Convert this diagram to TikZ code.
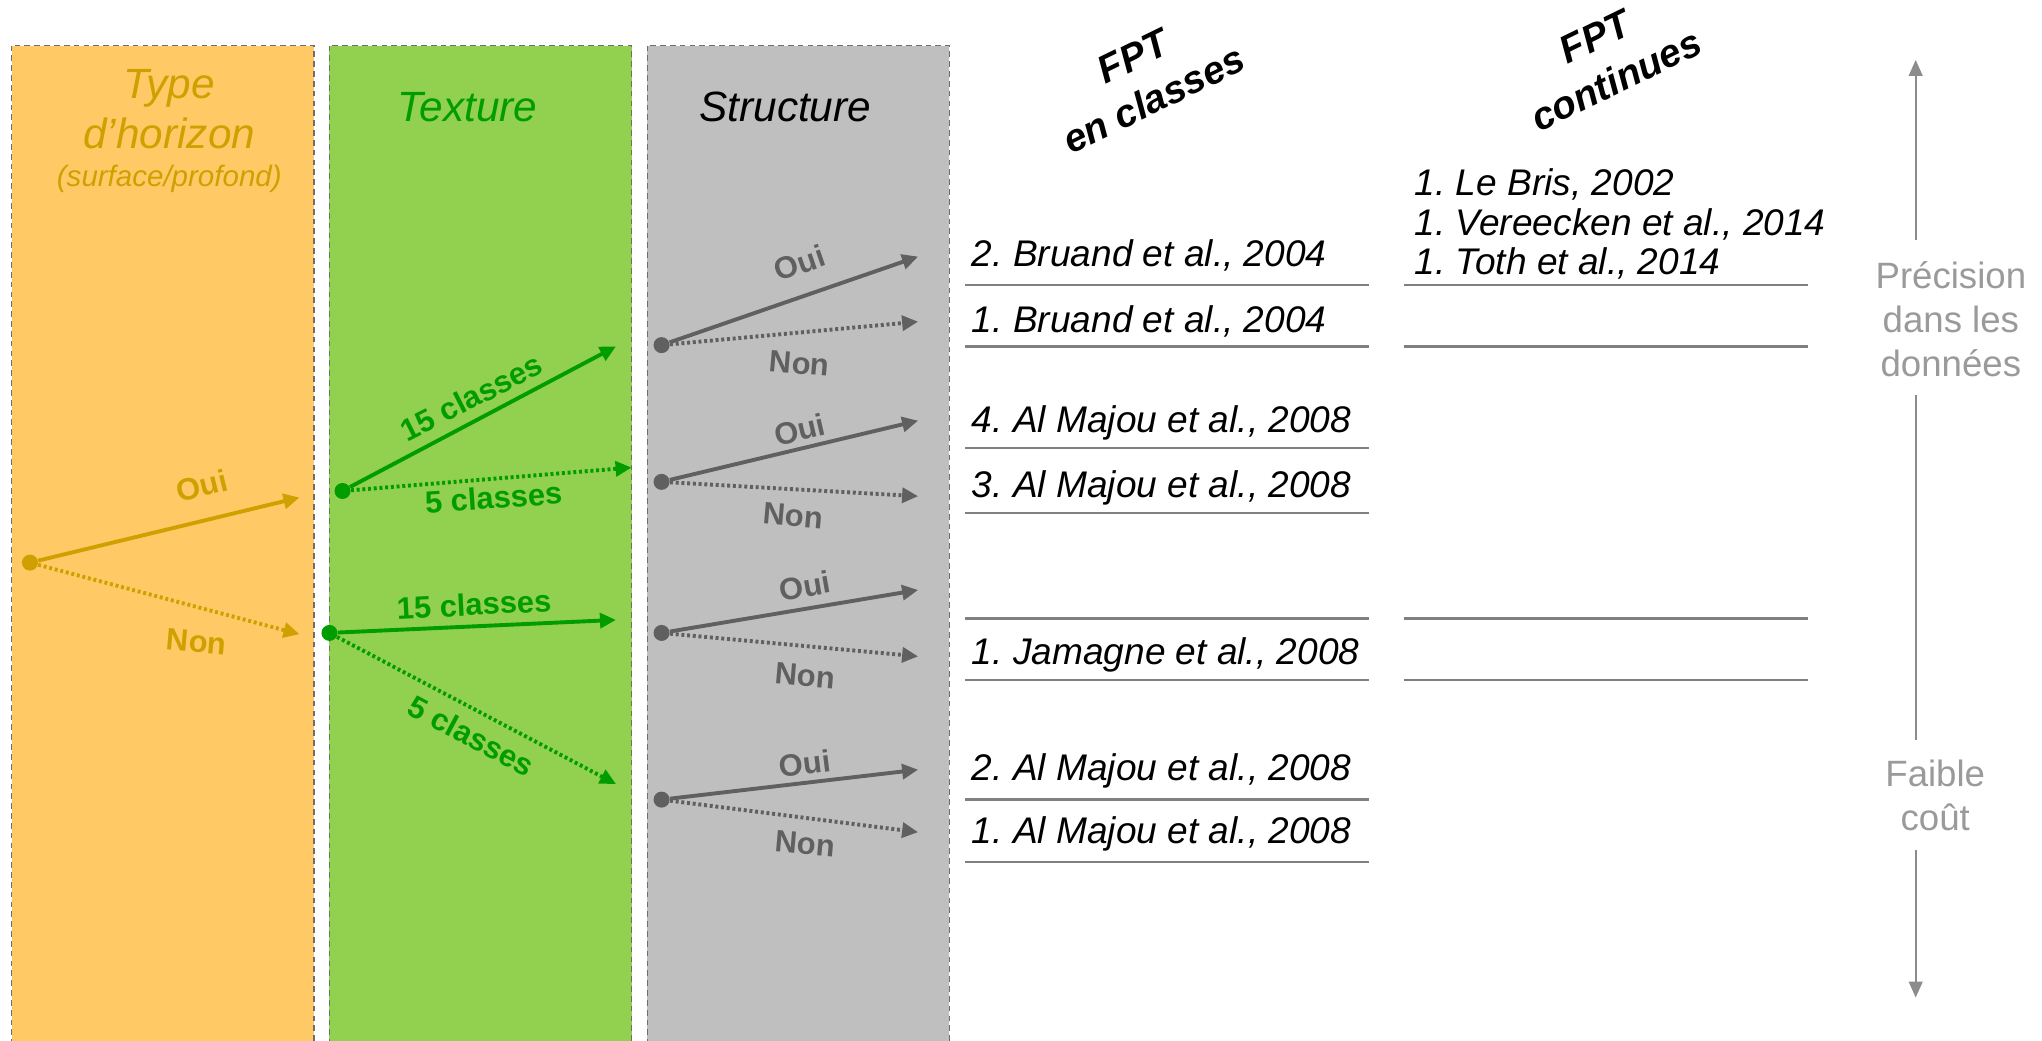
\documentclass[tikz,border=0pt]{standalone}
\usepackage{fontspec}
\setmainfont{Liberation Sans}
\usepackage{tikz}
\usetikzlibrary{arrows.meta}
\definecolor{orfill}{HTML}{FFCA65}
\definecolor{grfill}{HTML}{92D050}
\definecolor{gyfill}{HTML}{BFBFBF}
\definecolor{ortext}{HTML}{D0A000}
\definecolor{grtext}{HTML}{009C00}
\definecolor{gyarrow}{HTML}{606060}
\definecolor{bordgray}{HTML}{6E6E6E}
\definecolor{sepgray}{HTML}{808080}
\definecolor{axgray}{HTML}{8C8C8C}
\definecolor{sidetext}{HTML}{9A9A9A}
\frenchspacing

\begin{document}
\begin{tikzpicture}[x=0.02cm,y=-0.02cm,>={Triangle[length=7pt,width=6.5pt]},
	col/.style={draw=bordgray,dash pattern=on 2.5pt off 1.8pt,line width=0.6pt},
	dot/.style={circle,fill,inner sep=0pt,minimum size=7pt},
	yes/.style={->,line width=1.7pt},
	no/.style={->,line width=1.7pt,dash pattern=on 1.3pt off 1.2pt},
	lab/.style={inner sep=0pt,font=\fontsize{13.5}{15}\selectfont\bfseries},
	title/.style={align=center,font=\fontsize{18.5}{22}\selectfont\itshape},
	head/.style={align=center,rotate=26,font=\fontsize{17}{21}\selectfont\bfseries\itshape},
	ref/.style={anchor=base west,inner sep=0pt,font=\fontsize{16.2}{18}\selectfont\itshape},
	side/.style={align=center,text=sidetext,font=\fontsize{16}{19.3}\selectfont},
	sep/.style={draw=sepgray,line width=1pt},
	axis/.style={draw=axgray,line width=0.9pt,>={Triangle[length=7pt,width=6pt]}}]
\useasboundingbox (0,0) rectangle (1568,799);
\clip (0,0) rectangle (1568,799);

\filldraw[col,fill=orfill] (9,35) rectangle (241,830);
\filldraw[col,fill=grfill] (253,35) rectangle (485,830);
\filldraw[col,fill=gyfill] (497,35) rectangle (729,830);

\node[title,text=ortext] (t1) at (130,84) {Type\\d’horizon};
\node[text=ortext,font=\fontsize{12.9}{15}\selectfont\itshape] (t1b) at (130,137) {(surface/profond)};
\node[title,text=grtext] (t2) at (359,82) {Texture};
\node[title] (t3) at (603,82) {Structure};
\node[head] (h1) at (878,60) {FPT\\en classes};
\node[head] (h2) at (1233,45) {FPT\\continues};

% type d'horizon
\node[dot,ortext] (v0) at (23,432) {};
\coordinate (v1) at (230,382);
\coordinate (v2) at (230,487);
\draw[yes,ortext] (v0) -- (v1);
\draw[no,ortext] (v0) -- (v2);
\node[lab,text=ortext,rotate=14] at (155,373) {Oui};
\node[lab,text=ortext,rotate=-5] at (151,493) {Non};

% texture
\node[dot,grtext] (w1) at (263,377) {};
\node[dot,grtext] (w2) at (253,486) {};
\coordinate (w3) at (473,266);
\coordinate (w4) at (485,359);
\coordinate (w5) at (473,476);
\coordinate (w6) at (473,602);
\draw[yes,grtext] (w1) -- (w3);
\draw[no,grtext] (w1) -- (w4);
\draw[yes,grtext] (w2) -- (w5);
\draw[no,grtext] (w2) -- (w6);
\node[lab,text=grtext,rotate=27] at (362,305) {15 classes};
\node[lab,text=grtext,rotate=4] at (379,382) {5 classes};
\node[lab,text=grtext,rotate=3] at (364,464) {15 classes};
\node[lab,text=grtext,rotate=-28] at (362,565) {5 classes};

% structure
\foreach \i/\d/\o/\n/\xo/\lo/\ro/\xn/\ln in {1/265/197/247/614/202/19/614/279,
	2/370/323/381/614/330/13/609/396, 3/486/453/504/618/450/10/618/519,
	4/614/591/639/618/586/7/618/648}{
	\node[dot,gyarrow] (s\i) at (508,\d) {};
	\coordinate (so\i) at (705,\o);
	\coordinate (sn\i) at (705,\n);
	\draw[yes,gyarrow] (s\i) -- (so\i);
	\draw[no,gyarrow] (s\i) -- (sn\i);
	\node[lab,text=gyarrow,rotate=\ro] at (\xo,\lo) {Oui};
	\node[lab,text=gyarrow,rotate=-5] at (\xn,\ln) {Non};
}

% FPT en classes
\node[ref] (r1) at (746,205) {2. Bruand et al., 2004};
\node[ref] (r2) at (746,255) {1. Bruand et al., 2004};
\node[ref] (r3) at (746,332) {4. Al Majou et al., 2008};
\node[ref] (r4) at (746,382) {3. Al Majou et al., 2008};
\node[ref] (r5) at (746,510) {1. Jamagne et al., 2008};
\node[ref] (r6) at (746,599) {2. Al Majou et al., 2008};
\node[ref] (r7) at (746,648) {1. Al Majou et al., 2008};
\foreach \y in {219,266,344,394,475,522,614,662}
	\draw[sep] (741,\y) -- (1051,\y);

% FPT continues
\node[ref] (c1) at (1086,150) {1. Le Bris, 2002};
\node[ref] (c2) at (1086,181) {1. Vereecken et al., 2014};
\node[ref] (c3) at (1086,211) {1. Toth et al., 2014};
\foreach \y in {219,266,475,522}
	\draw[sep] (1078,\y) -- (1388,\y);

% axe
\node[side] (prec) at (1498,245) {Précision\\dans les\\données};
\node[side] (faib) at (1486,611) {Faible\\coût};
\coordinate (a0) at (1471,46);
\coordinate (a1) at (1471,184);
\coordinate (a2) at (1471,303);
\coordinate (a3) at (1471,568);
\coordinate (a4) at (1471,653);
\coordinate (a5) at (1471,766);
\draw[axis,->] (a1) -- (a0);
\draw[axis] (a2) -- (a3);
\draw[axis,->] (a4) -- (a5);
\end{tikzpicture}
\end{document}
